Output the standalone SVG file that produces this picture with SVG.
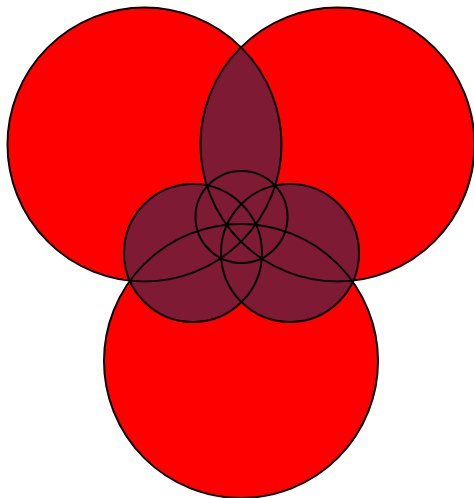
<svg xmlns="http://www.w3.org/2000/svg" width="474" height="498" viewBox="0 0 474 498">
<style>
.big{fill:#ff0000;stroke:none}
.dark{fill:#7f1a34;stroke:none}
.line{fill:none;stroke:#000;stroke-width:2}
</style>
<defs>
<clipPath id="clipTL"><circle cx="144.5" cy="144.5" r="137"/></clipPath>
</defs>
<rect width="474" height="498" fill="#fff"/>
<g id="fills">
<circle id="fill-top-left" class="big" cx="144.5" cy="144.5" r="137"/>
<circle id="fill-top-right" class="big" cx="337.5" cy="144.5" r="137"/>
<circle id="fill-bottom" class="big" cx="241" cy="361" r="137"/>
<circle id="fill-lens" class="dark" cx="337.5" cy="144.5" r="137" clip-path="url(#clipTL)"/>
<circle id="fill-small-left" class="dark" cx="193" cy="253" r="69"/>
<circle id="fill-small-right" class="dark" cx="290" cy="253" r="69"/>
<circle id="fill-tiny" class="dark" cx="241.5" cy="217" r="46"/>
</g>
<g id="outlines">
<g id="circle-top-left"><circle class="line" cx="144.5" cy="144.5" r="137"/></g>
<g id="circle-top-right"><circle class="line" cx="337.5" cy="144.5" r="137"/></g>
<g id="circle-bottom"><circle class="line" cx="241" cy="361" r="137"/></g>
<g id="circle-small-left"><circle class="line" cx="193" cy="253" r="69"/></g>
<g id="circle-small-right"><circle class="line" cx="290" cy="253" r="69"/></g>
<g id="circle-tiny"><circle class="line" cx="241.5" cy="217" r="46"/></g>
</g>
</svg>
